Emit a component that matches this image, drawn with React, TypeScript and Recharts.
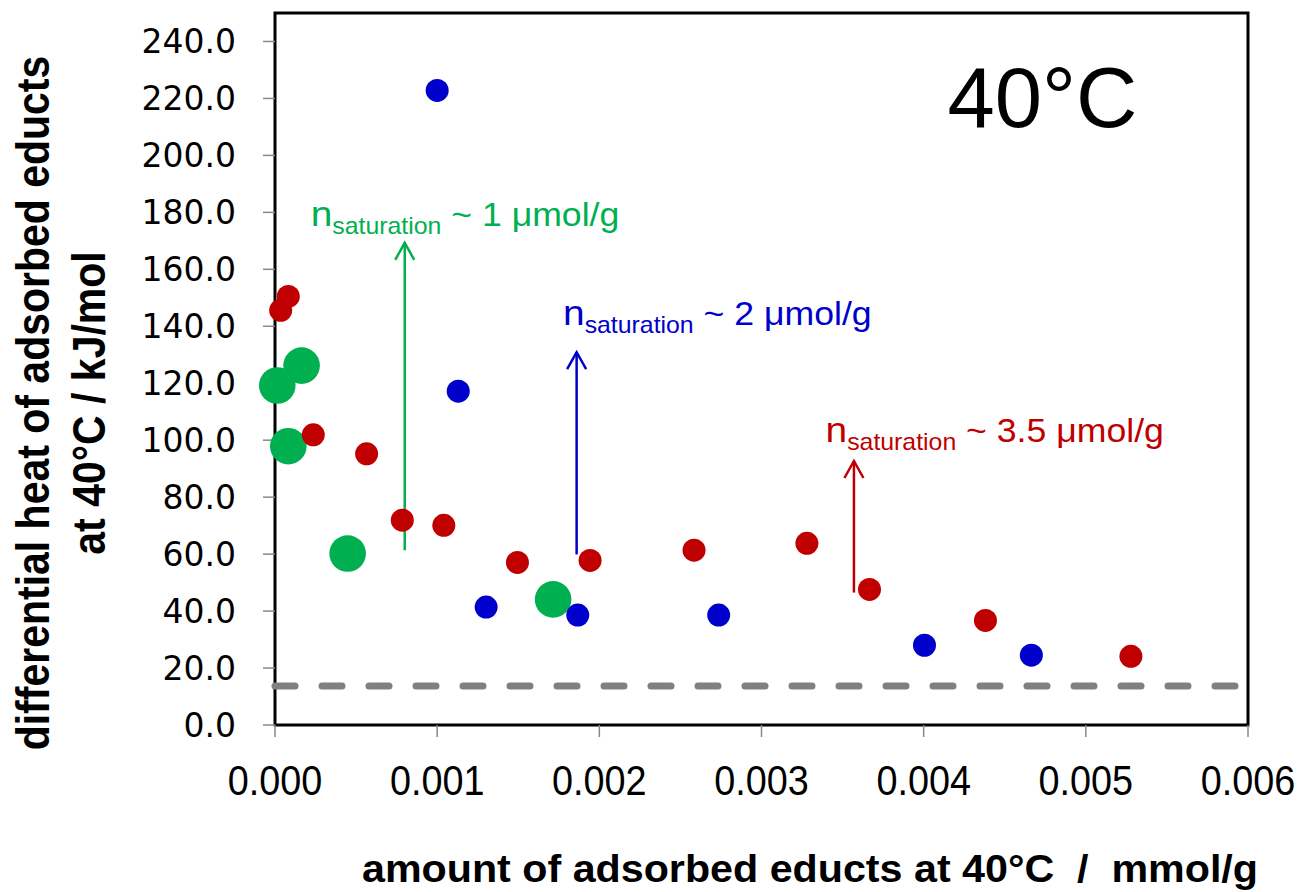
import React from "react"
import { ScatterChart, Scatter, XAxis, YAxis, ReferenceLine, ReferenceDot, ReferenceArea } from "recharts"

// amount adsorbed (mmol/g) and differential heat (kJ/mol), one pair of arrays per probe
const greenX = [0.000014, 0.000082, 0.000164, 0.000448, 0.001715]
const greenY = [119.2, 97.9, 126.2, 60.2, 44.1]

const redX = [0.000035, 0.000082, 0.000236, 0.000565, 0.000785, 0.001041, 0.001495, 0.001943, 0.002584, 0.00328, 0.003666, 0.004381, 0.005278]
const redY = [145.6, 150.5, 101.9, 95.2, 71.9, 70.1, 57.1, 57.8, 61.4, 63.8, 47.6, 36.7, 24.1]

const blueX = [0.001, 0.00113, 0.001302, 0.001867, 0.002736, 0.004005, 0.004664]
const blueY = [222.8, 117.2, 41.4, 38.6, 38.6, 28.0, 24.5]

const xTicks = [0, 0.001, 0.002, 0.003, 0.004, 0.005, 0.006]
const yTicks = [0, 20, 40, 60, 80, 100, 120, 140, 160, 180, 200, 220, 240]

// physisorption level (dashed line)
const baselineHeat = 13.7

// saturation arrows: x position, start, tip, label anchor
const satValues = ["1", "2", "3.5"]
const satColors = ["#00B050", "#0000CC", "#C00000"]
const arrowX = [0.0008, 0.00186, 0.00357]
const arrowFrom = [61.4, 59.9, 46.5]
const arrowTo = [169.3, 130.9, 92.7]
const labelX = [0.00022, 0.001776, 0.003395]
const labelY = [175.1, 140.6, 99.2]

const GREEN = "#00B050"
const RED = "#C00000"
const BLUE = "#0000CC"

const toPoints = (xs: number[], ys: number[]) => xs.map((x, i) => ({ x, y: ys[i] }))

const dot = (r: number, fill: string) => (p: any) => <circle cx={p.cx} cy={p.cy} r={r} fill={fill} />

function XTick({ x, y, payload }: any) {
  return (
    <text
      transform={`translate(${x},${y + 56}) scale(0.9,1)`}
      textAnchor="middle"
      fontFamily="Liberation Sans, Arial"
      fontSize={42}
      fill="#000"
    >
      {payload.value.toFixed(3)}
    </text>
  )
}

function YTick({ x, y, payload }: any) {
  return (
    <text x={x} y={y} dy={12} textAnchor="end" fontFamily="DejaVu Sans" fontSize={33} fill="#000">
      {payload.value.toFixed(1)}
    </text>
  )
}

function XTitle({ viewBox }: any) {
  return (
    <text
      x={viewBox.x + 87}
      y={viewBox.y + 157}
      fontFamily="Liberation Sans, Arial"
      fontWeight="bold"
      fontSize={38}
      textLength={896}
      lengthAdjust="spacingAndGlyphs"
      style={{ whiteSpace: "pre" }}
      fill="#000"
    >
      amount of adsorbed educts at 40°C  /  mmol/g
    </text>
  )
}

// two-line rotated title, letters stretched a little across the line
function YTitle({ viewBox }: any) {
  const mid = viewBox.y + 390
  return (
    <g fontFamily="Liberation Sans, Arial" fontWeight="bold" fontSize={41} fill="#000" style={{ whiteSpace: "pre" }}>
      <text transform={`translate(49,${mid}) rotate(-90) scale(1,1.12)`} textAnchor="middle">
        differential heat  of adsorbed educts
      </text>
      <text transform={`translate(105,${mid}) rotate(-90) scale(1,1.12)`} textAnchor="middle">
        at 40°C  /  kJ/mol
      </text>
    </g>
  )
}

function Arrow({ x1, y1, x2, y2, stroke }: any) {
  return (
    <g stroke={stroke} strokeWidth={2.5} fill="none">
      <line x1={x1} y1={y1} x2={x2} y2={y2} />
      <polyline points={`${x2 - 9.5},${y2 + 17} ${x2},${y2} ${x2 + 9.5},${y2 + 17}`} />
    </g>
  )
}

function SatLabel({ cx, cy, color, value }: any) {
  return (
    <text transform={`translate(${cx},${cy}) scale(1.08,1)`} fill={color} fontFamily="Liberation Sans, Arial" style={{ whiteSpace: "pre" }}>
      <tspan fontSize={36}>n</tspan>
      <tspan fontSize={23} dy={8}>saturation</tspan>
      <tspan fontSize={33} dy={-8}>{` ~ ${value} μmol/g`}</tspan>
    </text>
  )
}

export default function App() {
  return (
    <div style={{ position: "absolute", left: 0, top: 0, background: "#fff" }}>
      <ScatterChart width={1301} height={892} margin={{ top: 13, right: 53, bottom: 0, left: 0 }}>
        <XAxis
          type="number"
          dataKey="x"
          domain={[0, 0.006]}
          ticks={xTicks}
          interval={0}
          height={167}
          axisLine={false}
          tickLine={{ stroke: "#888", strokeWidth: 1.5 }}
          tickSize={12}
          tick={(p: any) => <XTick {...p} />}
          label={{ content: (p: any) => <XTitle viewBox={p.viewBox} /> }}
        />
        <YAxis
          type="number"
          dataKey="y"
          domain={[0, 250]}
          ticks={yTicks}
          interval={0}
          width={275}
          axisLine={false}
          tickLine={{ stroke: "#888", strokeWidth: 1.5 }}
          tickSize={12}
          tickMargin={27}
          tick={(p: any) => <YTick {...p} />}
          label={{ content: (p: any) => <YTitle viewBox={p.viewBox} /> }}
        />
        <ReferenceArea x1={0} x2={0.006} y1={0} y2={250} fill="none" stroke="#000" strokeWidth={3} />
        <ReferenceLine
          y={baselineHeat}
          stroke="#808080"
          strokeWidth={7}
          strokeDasharray="20 27"
          strokeLinecap="round"
        />
        <Scatter data={toPoints(greenX, greenY)} isAnimationActive={false} shape={dot(18.3, GREEN)} />
        <Scatter data={toPoints(redX, redY)} isAnimationActive={false} shape={dot(11.5, RED)} />
        <Scatter data={toPoints(blueX, blueY)} isAnimationActive={false} shape={dot(11.5, BLUE)} />
        {arrowX.map((ax, i) => (
          <ReferenceLine
            key={`arrow-${i}`}
            segment={[
              { x: ax, y: arrowFrom[i] },
              { x: ax, y: arrowTo[i] },
            ]}
            stroke={satColors[i]}
            shape={(p: any) => <Arrow {...p} stroke={satColors[i]} />}
          />
        ))}
        {labelX.map((lx, i) => (
          <ReferenceDot
            key={`label-${i}`}
            x={lx}
            y={labelY[i]}
            r={0}
            shape={(p: any) => <SatLabel cx={p.cx} cy={p.cy} color={satColors[i]} value={satValues[i]} />}
          />
        ))}
        <ReferenceDot
          x={0.004147}
          y={210.1}
          r={0}
          shape={(p: any) => (
            <text x={p.cx} y={p.cy} fontFamily="Liberation Sans, Arial" fontSize={85} fill="#000">
              40°C
            </text>
          )}
        />
      </ScatterChart>
    </div>
  )
}
